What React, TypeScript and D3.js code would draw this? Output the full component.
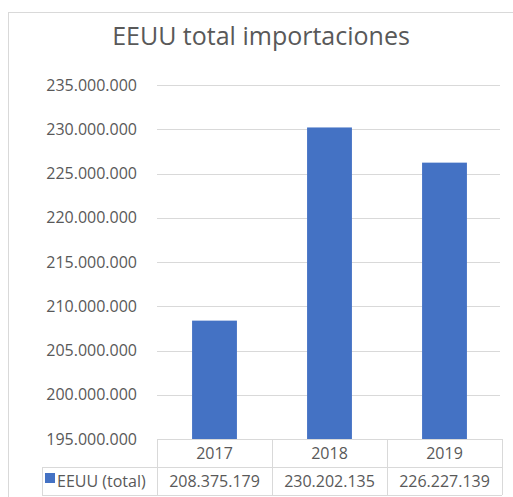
import React from "react";
import * as d3 from "d3";

const years = ["2017", "2018", "2019"];
const values = [208375179, 230202135, 226227139];
const yTicks = [195000000, 200000000, 205000000, 210000000, 215000000, 220000000, 225000000, 230000000, 235000000];
const seriesName = "EEUU (total)";
const title = "EEUU total importaciones";

const locale = d3.formatLocale({ decimal: ",", thousands: ".", grouping: [3], currency: ["", "€"] });
const fmt = locale.format(",d");

export default function App() {
  const W = 513, H = 497;
  const plotL = 157, plotR = 502;
  const yTop = 85, yBot = 439;
  const x = d3.scaleBand<string>().domain(years).range([plotL, plotR]).paddingInner(0.61).paddingOuter(0.305);
  const xCol = d3.scaleBand<string>().domain(years).range([plotL, plotR]);
  const y = d3.scaleLinear().domain([195000000, 235000000]).range([yBot, yTop]);
  const font = "'Open Sans', sans-serif";
  const textCol = "#595959";
  const lineCol = "#d9d9d9";
  const row1 = 439, row2 = 467, row3 = 495;
  const fs = 16;
  return (
    <svg width={W} height={H} style={{ position: "absolute", left: 0, top: 0 }}>
      <rect x={0} y={0} width={W} height={H} fill="#fff" />
      <rect x={8.5} y={12.5} width={W + 10} height={H + 10} fill="#fff" stroke={lineCol} strokeWidth={1} />
      <text x={261} y={45} textAnchor="middle" fontFamily={font} fontSize={25} fill={textCol}>{title}</text>
      {yTicks.map((t) => (
        <g key={t}>
          {t !== 195000000 && (
            <line x1={plotL} x2={500} y1={Math.round(y(t)) + 0.5} y2={Math.round(y(t)) + 0.5} stroke={lineCol} strokeWidth={1} />
          )}
          <text x={137} y={y(t) + 5.5} textAnchor="end" fontFamily={font} fontSize={fs} fill={textCol}>{fmt(t)}</text>
        </g>
      ))}
      {years.map((yr, i) => (
        <rect key={yr} x={x(yr)} width={x.bandwidth()} y={y(values[i])} height={yBot - y(values[i])} fill="#4472C4" />
      ))}
      <g stroke={lineCol} strokeWidth={1}>
        <line x1={plotL} x2={plotR} y1={row1 + 0.5} y2={row1 + 0.5} />
        <line x1={42} x2={plotR} y1={row2 + 0.5} y2={row2 + 0.5} />
        <line x1={42} x2={plotR} y1={row3 + 0.5} y2={row3 + 0.5} />
        <line x1={42.5} x2={42.5} y1={row2} y2={row3} />
        {years.map((yr) => (
          <line key={yr} x1={Math.round(xCol(yr)!) + 0.5} x2={Math.round(xCol(yr)!) + 0.5} y1={row1} y2={row3} />
        ))}
        <line x1={plotR + 0.5} x2={plotR + 0.5} y1={row1} y2={row3} />
      </g>
      {years.map((yr, i) => (
        <g key={yr}>
          <text x={xCol(yr)! + xCol.bandwidth() / 2} y={459} textAnchor="middle" fontFamily={font} fontSize={fs} fill={textCol}>{yr}</text>
          <text x={xCol(yr)! + xCol.bandwidth() / 2} y={487} textAnchor="middle" fontFamily={font} fontSize={fs} fill={textCol}>{fmt(values[i])}</text>
        </g>
      ))}
      <rect x={45} y={473} width={10} height={10} fill="#4472C4" />
      <text x={57} y={487} fontFamily={font} fontSize={fs} fill={textCol}>{seriesName}</text>
    </svg>
  );
}
